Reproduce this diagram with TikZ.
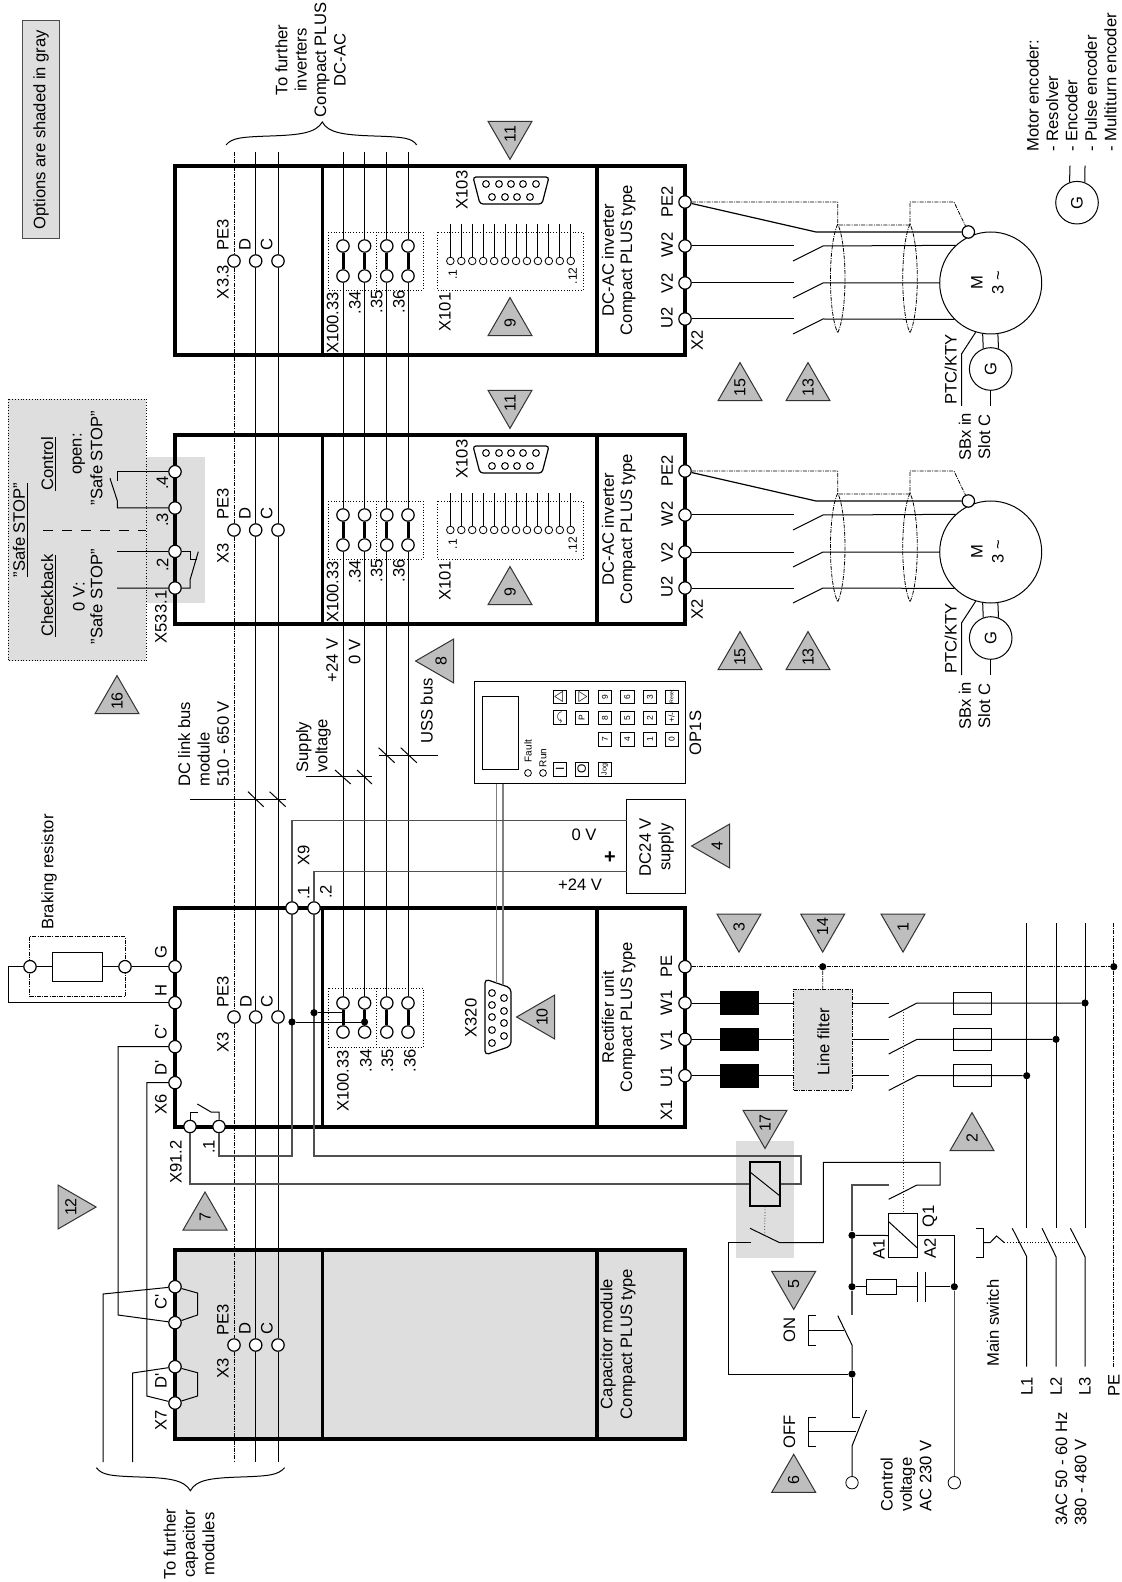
\documentclass[tikz,border=0pt]{standalone}
\usepackage{amssymb}
\usepackage{fontspec}
\setmainfont{Liberation Sans}
\usetikzlibrary{shapes.geometric}
\definecolor{optgray}{HTML}{DEDEDE}
\definecolor{trigray}{HTML}{BEBEBE}
\definecolor{wiregray}{HTML}{505050}
\begin{document}
\begin{tikzpicture}[x=0.5pt,y=-0.5pt,line width=0.5pt,
wire/.style={line width=0.5pt},wireG/.style={line width=0.6pt,draw=wiregray},
frame/.style={line width=1.7pt,line join=miter},jumper/.style={line width=1.5pt},
cable/.style={line width=0.8pt,draw=gray},
pe/.style={line width=0.4pt,dash pattern=on 2pt off 0.6pt on 0.5pt off 0.6pt},
dotbox/.style={line width=0.4pt,densely dotted},
term/.style={shape=circle,draw=black,fill=white,inner sep=0pt,minimum size=6.2pt,line width=0.6pt},
pin/.style={shape=circle,draw=black,fill=white,inner sep=0pt,minimum size=3.8pt,line width=0.4pt},
jdot/.style={shape=circle,fill=black,inner sep=0pt,minimum size=3.6pt},
boxb/.style={shape=rectangle,draw=black,inner sep=0pt},
lab/.style={rotate=90,inner sep=0pt,font=\fontsize{8.3}{9.7}\selectfont},
labH/.style={inner sep=0pt,font=\fontsize{8.3}{9.7}\selectfont},
labS/.style={lab,font=\fontsize{6}{7}\selectfont},
key/.style={boxb,rotate=90,minimum size=6.8pt,font=\fontsize{4.2}{5}\selectfont,line width=0.4pt},
tri/.style={shape=regular polygon,regular polygon sides=3,rotate=90,draw=black!80,fill=trigray,minimum size=25.4pt,inner sep=0pt,outer sep=0pt,font=\fontsize{8}{9}\selectfont},
triL/.style={tri},triU/.style={tri,shape border rotate=-90},
triD/.style={tri,shape border rotate=90},triR/.style={tri,shape border rotate=180}]
\def\xL{175}
\def\xR{685}
\def\xPE{234}
\def\xD{255.7}
\def\xC{278}
\def\xS{852}
\def\xG{954.3}

\useasboundingbox (0,0) rectangle (1122,1582);

\node[boxb,fill=optgray,minimum width=18.3pt,minimum height=109pt,draw=black!70] (options) at (41,129.7) {};
\node[lab] (optionstxt) at (41,129.7) {Options are shaded in gray};

\fill[optgray] (146.4,457) rectangle (204.6,602.7);
\draw[dotbox,fill=optgray] (8,399) rectangle (146.4,660.7);
\fill[optgray] (735.6,1141) rectangle (794,1257.7);

\draw[frame,fill=optgray] (\xL,1250) rectangle (\xR,1439);
\draw[frame] (322.5,1250) -- (322.5,1439);
\draw[frame] (597,1250) -- (597,1439);
\draw[frame] (\xL,908) rectangle (\xR,1127);
\draw[frame] (322.5,908) -- (322.5,1127);
\draw[frame] (597,908) -- (597,1127);

\foreach \n/\dy in {two/0,one/269}{
\draw[frame] (\xL,166+\dy) rectangle (\xR,355+\dy);
\draw[frame] (322.5,166+\dy) -- (322.5,355+\dy);
\draw[frame] (597,166+\dy) -- (597,355+\dy);
\draw[dotbox] (328,232+\dy) rectangle (423,290+\dy);
\draw[dotbox] (376.8,232+\dy) -- (376.8,290+\dy);
\draw[dotbox] (437,232+\dy) rectangle (583,290+\dy);

\node[term] (PE\n) at (\xPE,261+\dy) {};
\node[term] (D\n) at (\xD,261+\dy) {};
\node[term] (C\n) at (\xC,261+\dy) {};
\node[lab] (PEtxt\n) at (223,235+\dy) {PE3};
\node[lab] (Dtxt\n) at (245,245+\dy) {D};
\node[lab] (Ctxt\n) at (266.7,245+\dy) {C};

\foreach \t/\x in {33/343,34/364.6,35/386.8,36/408}{
\node[term] (T\t u\n) at (\x,246+\dy) {};
\node[term] (T\t l\n) at (\x,276+\dy) {};
\draw[jumper] (T\t u\n) -- (T\t l\n);
}
\node[lab] (X100txt\n) at (332.7,323+\dy) {X100.33};
\node[lab] (T34txt\n) at (355,303+\dy) {.34};
\node[lab] (T35txt\n) at (376.7,302+\dy) {.35};
\node[lab] (T36txt\n) at (399,302+\dy) {.36};

\foreach \i in {1,...,12}{
\node[pin] (p\i\n) at (439.4+10.945*\i,261+\dy) {};
\coordinate (pt\i\n) at (439.4+10.945*\i,224+\dy);
\draw[wire] (p\i\n) -- (pt\i\n);
}
\node[labS] (p1txt\n) at (452.7,275+\dy) {.1};
\node[labS] (p12txt\n) at (572.7,276+\dy) {.12};
\node[lab] (X101txt\n) at (445,312+\dy) {X101};

\draw[rounded corners=1.5pt,line width=0.6pt] (473,177+\dy) -- (549,177+\dy) -- (542,204+\dy) -- (480,204+\dy) -- cycle;
\foreach \x in {486,499,511,523,536}{\draw (\x,184+\dy) circle [radius=3.4];}
\foreach \x in {492,505,517,530}{\draw (\x,197+\dy) circle [radius=3.4];}
\node[lab] (X103txt\n) at (462,190+\dy) {X103};

\node[lab] (invAtxt\n) at (608,260+\dy) {DC-AC inverter};
\node[lab] (invBtxt\n) at (628,260+\dy) {Compact PLUS type};

\node[term] (TPE\n) at (\xR,202+\dy) {};
\node[term] (TW\n) at (\xR,246+\dy) {};
\node[term] (TV\n) at (\xR,283+\dy) {};
\node[term] (TU\n) at (\xR,319+\dy) {};
\node[lab] (PE2txt\n) at (667,201.7+\dy) {PE2};
\node[lab] (W2txt\n) at (667,245+\dy) {W2};
\node[lab] (V2txt\n) at (667,283+\dy) {V2};
\node[lab] (U2txt\n) at (667,318+\dy) {U2};
\node[lab] (X2txt\n) at (697,340+\dy) {X2};

\node[shape=circle,draw=black,inner sep=0pt,minimum size=51pt] (M\n) at (990.7,283+\dy) {};
\node[lab] (Mtxt\n) at (977,283+\dy) {M};
\node[lab] (Mtxb\n) at (998,283+\dy) {3 \textasciitilde};
\node[term] (Tm\n) at (968.3,232+\dy) {};

\draw[wire] (TW\n) -- (794,246+\dy);
\draw[wire] (793,261+\dy) -- (823,246+\dy) -- (M\n.133);
\draw[wire] (TV\n) -- (794,283+\dy);
\draw[wire] (793,298+\dy) -- (823,283+\dy) -- (M\n.west);
\draw[wire] (TU\n) -- (794,319+\dy);
\draw[wire] (793,334+\dy) -- (823,319+\dy) -- (M\n.225);
\draw[wire,line width=0.6pt] (TPE\n) -- (816,232+\dy) -- (Tm\n);
\draw[pe] (TPE\n) -- (837.7,202+\dy) -- (837.7,225+\dy) -- (910,225+\dy) -- (910,202+\dy) -- (954,202+\dy) -- (Tm\n);
\draw[pe] (837.7,224+\dy) .. controls (828,245+\dy) and (828,312+\dy) .. (837.7,333+\dy) .. controls (847.4,312+\dy) and (847.4,245+\dy) .. (837.7,224+\dy);
\draw[pe] (910,224+\dy) .. controls (900.3,245+\dy) and (900.3,312+\dy) .. (910,333+\dy) .. controls (919.7,312+\dy) and (919.7,245+\dy) .. (910,224+\dy);

\node[shape=circle,draw=black,inner sep=0pt,minimum size=21.3pt] (G\n) at (990.7,369+\dy) {};
\node[lab] (Gtxt\n) at (990.7,369+\dy) {G};
\draw[wire] (M\n.261.6) -- (G\n.110.6);
\draw[wire] (M\n.278.4) -- (G\n.69.4);
\draw[wire] (G\n.south) -- (990.7,406+\dy);
\draw[wire] (M\n.253) -- (961.5,354+\dy) -- (961.5,406+\dy);
\node[lab] (PTCtxt\n) at (950.7,369.6+\dy) {PTC/KTY};
\node[lab,align=center] (SBxtxt\n) at (974.5,437+\dy) {SBx in\\Slot C};

\node[triD] (tE\n) at (510,134+\dy) {11};
\node[triU] (tN\n) at (510,323+\dy) {9};
\node[triU] (tO\n) at (740,388+\dy) {15};
\node[triU] (tT\n) at (808,388+\dy) {13};
}
\node[lab] (X33txt) at (223,282) {X3.3};
\node[lab] (X3txt) at (223,553) {X3};

\node[term] (PErec) at (\xPE,1017) {};
\node[term] (Drec) at (\xD,1017) {};
\node[term] (Crec) at (\xC,1017) {};
\node[lab] (PEtxtrec) at (223,992) {PE3};
\node[lab] (Dtxtrec) at (246,1001) {D};
\node[lab] (Ctxtrec) at (267,1001) {C};
\node[lab] (X3txtrec) at (223,1042) {X3};

\node[term] (PEcap) at (\xPE,1345) {};
\node[term] (Dcap) at (\xD,1345) {};
\node[term] (Ccap) at (\xC,1345) {};
\node[lab] (PEtxtcap) at (223,1320) {PE3};
\node[lab] (Dtxtcap) at (245,1328) {D};
\node[lab] (Ctxtcap) at (267,1328) {C};
\node[lab] (X3txtcap) at (223,1368) {X3};

\coordinate (PEtop) at (\xPE,152);
\coordinate (PEbot) at (\xPE,1462);
\coordinate (Dtop) at (\xD,152);
\coordinate (Dbot) at (\xD,1462);
\coordinate (Ctop) at (\xC,152);
\coordinate (Cbot) at (\xC,1462);
\draw[pe] (PEtop) -- (PEtwo) -- (PEone) -- (PErec) -- (PEcap) -- (PEbot);
\draw[wire] (Dtop) -- (Dtwo) -- (Done) -- (Drec) -- (Dcap) -- (Dbot);
\draw[wire] (Ctop) -- (Ctwo) -- (Cone) -- (Crec) -- (Ccap) -- (Cbot);

\foreach \t/\x in {33/343,34/364.6,35/386.8,36/408}{
\node[term] (T\t urec) at (\x,1003) {};
\node[term] (T\t lrec) at (\x,1032) {};
\draw[jumper] (T\t urec) -- (T\t lrec);
\coordinate (T\t top) at (\x,152);
\draw[wire] (T\t top) -- (T\t utwo);
\draw[wire] (T\t ltwo) -- (T\t uone);
\draw[wire] (T\t lone) -- (T\t urec);
}
\draw[dotbox] (328.6,988) rectangle (423,1047);
\draw[dotbox] (376.8,988) -- (376.8,1047);
\node[lab] (X100txtrec) at (343,1081) {X100.33};
\node[lab] (T34txtrec) at (366,1061) {.34};
\node[lab] (T35txtrec) at (387.5,1061) {.35};
\node[lab] (T36txtrec) at (410,1061) {.36};

\node[term] (TX) at (\xL,471.7) {};
\node[term] (TY) at (\xL,508) {};
\node[term] (TZ) at (\xL,551.4) {};
\node[term] (TA) at (\xL,588) {};
\coordinate (TZl) at (117,551.4);
\coordinate (TAl) at (117,588);
\draw[wire] (TX) -- (117.3,471.7) -- (117.3,480.7);
\draw[wire] (110,478.3) -- (117.3,500.7) -- (117.3,508) -- (TY);
\draw[wire] (TZl) -- (TZ) -- (190,551.4) -- (190,559) -- (197,559);
\draw[wire] (198.3,551.7) -- (190,580) -- (190,588) -- (TA) -- (TAl);
\draw[wire,dashed,dash pattern=on 5pt off 4.5pt] (43,530) -- (146.4,530);
\node[lab] (p4txt) at (162.5,482.7) {.4};
\node[lab] (p3txt) at (162.5,520) {.3};
\node[lab] (p2txt) at (162.5,565) {.2};
\node[lab] (X533txt) at (161,617) {X533.1};
\node[lab] (safetxt) at (20.7,530) {\underline{"Safe STOP"}};
\node[lab] (controltxt) at (49,464) {\underline{Control}};
\node[lab] (checktxt) at (49,595.7) {\underline{Checkback}};
\node[lab] (opentxt) at (79,454) {open:};
\node[lab] (safeotxt) at (96.4,458) {"Safe STOP"};
\node[lab] (zerotxt) at (79,596.7) {0 V:};
\node[lab] (safeztxt) at (96.4,596.7) {"Safe STOP"};

\node[term] (TG) at (\xL,966.7) {};
\node[term] (TH) at (\xL,1002.7) {};
\node[term] (TCp) at (\xL,1046.7) {};
\node[term] (TDp) at (\xL,1082.7) {};
\node[term] (TKa) at (190,1126.5) {};
\node[term] (TKb) at (219,1126.5) {};
\node[term] (TXa) at (292,908) {};
\node[term] (TXb) at (314,908) {};
\node[lab] (Gtxt) at (161,952) {G};
\node[lab] (Htxt) at (161,990) {H};
\node[lab] (Cptxt) at (161,1032) {C\textquotesingle};
\node[lab] (Dptxt) at (161,1068) {D\textquotesingle};
\node[lab] (X6txt) at (161,1104) {X6};
\node[lab] (X91txt) at (176,1162) {X91.2};
\node[lab] (Kbtxt) at (209,1147) {.1};
\node[lab] (X9txt) at (303.6,855) {X9};
\node[lab] (Xatxt) at (303.6,893) {.1};
\node[lab] (Xbtxt) at (325.7,892) {.2};
\draw[wire] (TKa) -- (190,1112) -- (198,1112);
\draw[wire] (197.3,1104) -- (211,1112) -- (219,1112) -- (TKb);

\draw[pe] (29.6,936.7) rectangle (125.4,996);
\node[term] (Ra) at (30,966.7) {};
\node[term] (Rb) at (125,966.7) {};
\node[boxb,minimum width=25.2pt,minimum height=14.5pt] (Rbrake) at (77.7,966.7) {};
\draw[wire] (TG) -- (Rb) -- (Rbrake) -- (Ra) -- (8,966.7) -- (8,1002.7) -- (TH);
\node[lab] (braketxt) at (49,872) {Braking resistor};

\node[term] (Ca) at (\xL,1286.7) {};
\node[term] (Cb) at (\xL,1322.7) {};
\node[term] (Da) at (\xL,1366.7) {};
\node[term] (Db) at (\xL,1403) {};
\coordinate (Cat) at (103,1462);
\coordinate (Dat) at (132.5,1462);
\draw[wire] (Ca) -- (197.5,1293) -- (197.5,1315) -- (Cb);
\draw[wire] (Da) -- (197.5,1372.7) -- (197.5,1396) -- (Db);
\draw[wire] (Ca) -- (103,1294) -- (Cat);
\draw[wire] (Da) -- (132.5,1373) -- (Dat);
\draw[wire] (Cb) -- (118,1315) -- (118,1046.7) -- (TCp);
\draw[wire] (Db) -- (146.8,1396) -- (146.8,1082.7) -- (TDp);
\node[lab] (Cptxtcap) at (161,1301.7) {C\textquotesingle};
\node[lab] (Dptxtcap) at (161,1381) {D\textquotesingle};
\node[lab] (X7txt) at (161,1420.7) {X7};
\node[lab] (capAtxt) at (608,1344) {Capacitor module};
\node[lab] (capBtxt) at (628,1344) {Compact PLUS type};

\draw[wire] (226,145) .. controls (232,138) and (240,137) .. (270,136) .. controls (300,135) and (316,133) .. (322.3,122) .. controls (328,133) and (344,135) .. (374,136) .. controls (404,137) and (412,138) .. (416.7,145);
\draw[wire] (96.4,1467.7) .. controls (102,1475) and (110,1476) .. (140,1477) .. controls (170,1478) and (184,1480) .. (190.4,1490.7) .. controls (196,1480) and (210,1478) .. (240,1477) .. controls (270,1476) and (278,1475) .. (284.6,1467.7);
\node[lab,align=center] (furtherinv) at (310.5,60) {To further\\inverters\\Compact PLUS\\DC-AC};
\node[lab,align=center] (furthercap) at (189,1544) {To further\\capacitor\\modules};

\node[boxb,minimum width=29.2pt,minimum height=47pt] (DCbox) at (656,846) {};
\node[lab,align=center] (DCtxt) at (656.5,847) {DC24 V\\supply};
\coordinate (DCa) at (627,820.7);
\coordinate (DCb) at (627,871.7);
\node[labH] (zeroV) at (584,835) {0 V};
\node[labH] (plusV) at (580,885) {+24 V};
\node[labH,font=\fontsize{10}{10}\bfseries] (plus) at (610,858) {+};

\node[boxb,minimum width=105.8pt,minimum height=50.7pt] (OP) at (579.8,732.5) {};
\node[boxb,minimum width=18pt,minimum height=36.2pt] (LCD) at (500,733) {};
\node[lab] (OPtxt) at (695.5,733) {OP1S};
\node[pin,minimum size=3.4pt] (ledF) at (528,773) {};
\node[pin,minimum size=3.4pt] (ledR) at (543,773) {};
\node[labS,font=\fontsize{5}{6}\selectfont] (Ftxt) at (528,751) {Fault};
\node[labS,font=\fontsize{5}{6}\selectfont] (Rtxt) at (543,758) {Run};
\foreach \kn/\kx/\ky/\kt in {a/560/696.7/{\fontsize{6}{6}\selectfont$\bigtriangleup$},b/581.7/696.7/{\fontsize{6}{6}\selectfont$\bigtriangledown$},c/605/696.7/9,d/627.3/696.7/6,e/650/696.7/3,f/671.7/696.7/{\fontsize{2.6}{3}\selectfont Reset},
g/560/717.7/{\fontsize{5}{5}\selectfont$\curvearrowleft$},h/581.7/717.7/P,i/605/717.7/8,j/627.3/717.7/5,k/650/717.7/2,l/671.7/717.7/{+/-},
m/605/739.3/7,n/627.3/739.3/4,o/650/739.3/1,p/671.7/739.3/0,
q/560/769.3/{\fontsize{6}{6}\selectfont I},r/581.7/769.3/{\fontsize{6}{6}\selectfont O},s/605/769.3/{\fontsize{3.6}{4}\selectfont Jog}}{
\node[key] (key\kn) at (\kx,\ky) {\kt};
}

\draw[line width=0.6pt,rounded corners=2pt] (485,979) -- (511,988) -- (511,1046) -- (485,1055) -- cycle;
\foreach \y in {993,1005,1017,1030,1043}{\draw (492,\y) circle [radius=3.4];}
\foreach \y in {998,1011,1023,1036}{\draw (504,\y) circle [radius=3.4];}
\node[lab] (X320txt) at (471,1018) {X320};
\coordinate (cabA) at (496.4,783.5);
\coordinate (cabB) at (503,783.5);
\coordinate (cabC) at (496.4,982.5);
\coordinate (cabD) at (503,984.5);
\draw[cable] (cabA) -- (cabC);
\draw[cable] (cabB) -- (cabD);

\node[boxb,minimum width=15pt,minimum height=22pt,line width=0.6pt] (Kcoil) at (765,1184) {};
\draw[wire] (750,1172) -- (780,1196);
\draw[wireG] (TKa) |- (Kcoil.west);
\draw[wireG] (TKb) -- (219,1156) -- (292,1156) -- (TXa);
\draw[wireG] (TXa) |- (DCa);
\draw[wireG] (TXb) |- (DCb);
\draw[wireG] (TXb) -- (314,1156) -- (801,1156) -- (801,1184) -- (Kcoil.east);

\node[jdot] (jA) at (314,1012.7) {};
\node[jdot] (jB) at (292,1022) {};
\node[jdot] (jC) at (364.6,1022) {};
\draw[wire] (jA) -- (343,1012.7);
\draw[wire] (jB) -- (jC);

\node[term] (TPE) at (\xR,966.7) {};
\node[term] (TW) at (\xR,1003) {};
\node[term] (TV) at (\xR,1039.3) {};
\node[term] (TU) at (\xR,1075.7) {};
\node[lab] (PEtxt) at (666.5,966.7) {PE};
\node[lab] (W1txt) at (666.5,1002.7) {W1};
\node[lab] (V1txt) at (666.5,1040) {V1};
\node[lab] (U1txt) at (666.5,1076.7) {U1};
\node[lab] (X1txt) at (666.5,1110) {X1};
\node[lab] (recAtxt) at (608,1017) {Rectifier unit};
\node[lab] (recBtxt) at (628,1017) {Compact PLUS type};

\node[boxb,fill=black,minimum width=18.7pt,minimum height=11.3pt] (chokeW) at (739.3,1003) {};
\node[boxb,fill=black,minimum width=18.7pt,minimum height=11.3pt] (chokeV) at (739.3,1039.3) {};
\node[boxb,fill=black,minimum width=18.7pt,minimum height=11.3pt] (chokeU) at (739.3,1075.7) {};
\node[boxb,pe,fill=optgray,minimum width=29.2pt,minimum height=50.5pt] (filter) at (822.8,1039.5) {};
\node[lab] (filtertxt) at (823.4,1041.7) {Line filter};
\node[boxb,minimum width=18.7pt,minimum height=11pt] (fuseW) at (972.3,1003) {};
\node[boxb,minimum width=18.7pt,minimum height=11pt] (fuseV) at (972.3,1039.3) {};
\node[boxb,minimum width=18.7pt,minimum height=11pt] (fuseU) at (972.3,1075.7) {};
\node[jdot] (jW) at (1085,1003) {};
\node[jdot] (jV) at (1056,1039.3) {};
\node[jdot] (jU) at (1026.7,1075.7) {};
\node[jdot] (jPEa) at (822.7,966.7) {};
\node[jdot] (jPEb) at (1113.8,966.7) {};

\draw[wire] (TW) -- (chokeW) -- (filter.west |- chokeW);
\draw[wire] (TV) -- (chokeV) -- (filter.west |- chokeV);
\draw[wire] (TU) -- (chokeU) -- (filter.west |- chokeU);
\draw[wire] (filter.east |- chokeW) -- (889,1003);
\draw[wire] (filter.east |- chokeV) -- (889,1039.3);
\draw[wire] (filter.east |- chokeU) -- (889,1075.7);
\draw[wire] (888.7,1017.7) -- (917,1003) -- (jW);
\draw[wire] (888.7,1054) -- (917,1039.3) -- (jV);
\draw[wire] (888.7,1090.4) -- (917,1075.7) -- (jU);
\draw[pe] (TPE) -- (jPEa) -- (jPEb);
\draw[pe] (jPEa) -- (filter.north);

\coordinate (Lat) at (1026.7,923);
\coordinate (Lbt) at (1056,923);
\coordinate (Lct) at (1085,923);
\coordinate (PEt) at (1113.8,923);
\coordinate (Lab) at (1026.7,1366.7);
\coordinate (Lbb) at (1056,1366.7);
\coordinate (Lcb) at (1085,1366.7);
\coordinate (PEb) at (1113.8,1366.7);
\draw[wire] (Lat) -- (1026.7,1228.3);
\draw[wire] (1012.3,1228.3) -- (1026.7,1256.7) -- (Lab);
\draw[wire] (Lbt) -- (1056,1228.3);
\draw[wire] (1042,1228.3) -- (1056,1256.7) -- (Lbb);
\draw[wire] (Lct) -- (1085,1228.3);
\draw[wire] (1070.4,1228.3) -- (1085,1256.7) -- (Lcb);
\draw[pe] (PEt) -- (jPEb) -- (PEb);
\draw[dotbox] (1004.4,1242.7) -- (1078,1242.7);
\draw[wire] (975.8,1228.3) -- (983,1228.3) -- (983,1257.3) -- (976,1257.3);
\draw[wire] (983,1242.7) -- (990,1242.7) -- (996.6,1236) -- (1004.4,1242.7);
\node[lab] (maintxt) at (993,1323) {Main switch};
\node[lab] (L1txt) at (1027,1386.7) {L1};
\node[lab] (L2txt) at (1056,1386.7) {L2};
\node[lab] (L3txt) at (1085,1386.7) {L3};
\node[lab] (PEltxt) at (1114,1385) {PE};
\node[lab,align=left,anchor=west] (ACtxt) at (1071,1526) {3AC 50 - 60 Hz\\380 - 480 V};

\node[boxb,minimum width=14.3pt,minimum height=21.8pt,line width=0.6pt] (Qcoil) at (903,1235.5) {};
\draw[wire] (888.7,1221.7) -- (917.3,1248);
\node[jdot] (jS) at (\xS,1235.3) {};
\node[jdot] (jT) at (\xS,1286.7) {};
\node[jdot] (jQ) at (\xG,1286.7) {};
\node[jdot] (jN) at (\xS,1374) {};
\node[term,line width=0.4pt] (ctlA) at (\xS,1482.7) {};
\node[term,line width=0.4pt] (ctlB) at (\xG,1482.7) {};
\node[boxb,minimum width=14.8pt,minimum height=7.3pt] (Rsnub) at (881.2,1286.7) {};
\coordinate (capL) at (917.7,1286.7);
\coordinate (capR) at (925,1286.7);
\draw[wire] (917.7,1272.3) -- (917.7,1301.7);
\draw[wire] (925,1272.3) -- (925,1301.7);
\draw[wireG] (jS) -- (jT) -- (\xS,1315.3);
\draw[wire] (jS) -- (Qcoil.west);
\draw[wire] (Qcoil.east) -- (\xG,1235.5) -- (jQ);
\draw[wireG] (jQ) -- (ctlB);
\draw[wire] (jT) -- (Rsnub) -- (capL);
\draw[wire] (capR) -- (jQ);
\draw[dotbox,draw=black!80] (903,1012) -- (Qcoil.north);
\draw[wireG] (jS) -- (\xS,1185) -- (889,1185);
\draw[wire] (888.7,1199.3) -- (917,1185) -- (940,1185) -- (940,1162.3) -- (823.4,1162.3) -- (823.4,1242.7) -- (779.7,1242.7) -- (750,1228.3);
\draw[dotbox,draw=black!80] (Kcoil.south) -- (764.7,1235);
\draw[wire] (750.7,1242.7) -- (728.5,1242.7) -- (728.5,1374) -- (jN);
\draw[wire] (jN) -- (\xS,1345) -- (837.8,1315.7);
\draw[wire] (816,1315.7) -- (808.4,1315.7) -- (808.4,1345) -- (816,1345);
\draw[wire] (808.4,1330) -- (844,1330);
\draw[wire] (jN) -- (\xS,1417.7) -- (860,1417.7);
\draw[wire] (866.5,1410) -- (\xS,1446) -- (ctlA);
\draw[wire] (816,1417.7) -- (808.4,1417.7) -- (808.4,1446.7) -- (816,1446.7);
\draw[wire] (808.4,1431.7) -- (855.7,1431.7);
\node[lab] (A1txt) at (879,1249) {A1};
\node[lab] (A2txt) at (930,1248) {A2};
\node[lab] (Q1txt) at (930,1216.7) {Q1};
\node[lab] (ONtxt) at (789.4,1330) {ON};
\node[lab] (OFFtxt) at (789.4,1431.7) {OFF};
\node[lab,align=left,anchor=west] (ctltxt) at (906,1511.7) {Control\\voltage\\AC 230 V};

\draw[wire] (190,799) -- (285.7,799);
\draw[wire] (248,791.7) -- (263.6,806.7);
\draw[wire] (269.6,791.7) -- (285.7,806.7);
\node[lab,align=left,anchor=west] (DCbus) at (203.6,787.3) {DC link bus\\module\\510 - 650 V};
\draw[wire] (306.4,776.7) -- (372,776.7);
\draw[wire] (335,770) -- (350.7,784);
\draw[wire] (357,770) -- (372,784);
\node[lab,align=left,anchor=west] (supply) at (313.5,773) {Supply\\voltage};
\draw[wire] (378.6,755) -- (438,755);
\draw[wire] (378.6,747.7) -- (394.6,762.7);
\draw[wire] (400.7,747.7) -- (416.8,762.7);
\node[lab] (USS) at (426.8,711) {USS bus};
\node[lab] (p24) at (332,660.7) {+24 V};
\node[lab] (n0) at (354.6,651.7) {0 V};

\node[lab,align=left,anchor=west] (enctxt) at (1071.5,152) {Motor encoder:\\- Resolver\\- Encoder\\- Pulse encoder\\- Multiturn encoder};
\node[shape=circle,draw=black,inner sep=0pt,minimum size=21.3pt] (Genc) at (1077,202.7) {};
\node[lab] (Gnct) at (1077,202.7) {G};
\coordinate (Genca) at (1070,165.7);
\coordinate (Gencb) at (1085,165.7);
\draw[wire] (Genca) -- (Genc.110.6);
\draw[wire] (Gencb) -- (Genc.69.4);

\node[triL] (t10) at (542,1017) {10};
\node[triL] (t4) at (717,846) {4};
\node[triL] (t8) at (441,661) {8};
\node[triU] (t16) at (117,701) {16};
\node[triR] (t12) at (70.7,1207) {12};
\node[triU] (t7) at (205,1217.4) {7};
\node[triD] (t3) at (739,926.7) {3};
\node[triD] (t14) at (822.7,926.7) {14};
\node[triD] (t1) at (903,926.7) {1};
\node[triD] (t17) at (765,1123) {17};
\node[triU] (t2) at (972,1138) {2};
\node[triD] (t5) at (793.7,1284) {5};
\node[triU] (t6) at (793.7,1479.7) {6};
\end{tikzpicture}
\end{document}
